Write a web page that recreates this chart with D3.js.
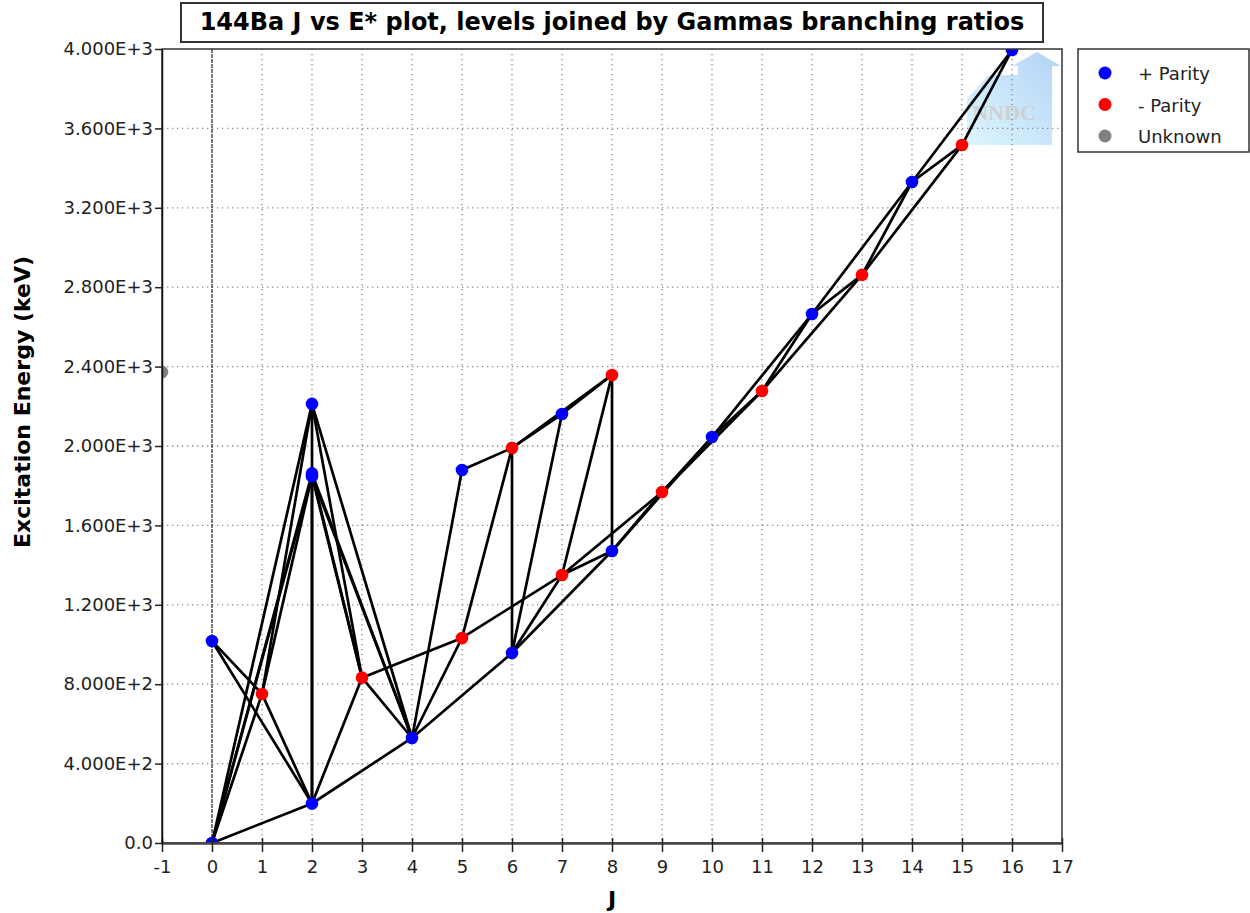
<!DOCTYPE html>
<html>
<head>
<meta charset="utf-8">
<script src="https://cdn.jsdelivr.net/npm/d3@7"></script>
<style>
  body { margin: 0; background: #fff; }
  text { font-family: "DejaVu Sans", sans-serif; }
</style>
</head>
<body>
<div id="chart"></div>
<script>
// Levels: spin J, excitation energy (keV), parity
var levelJ = [0, 2, 4, 1, 3, 6, 0, 5, 7, 8, 9, 2, 2, 5, 6, 10, 7, 2, 11, 8, 12, 13, 14, 15, 16, -1];
var levelE = [0, 199, 529, 751, 833, 957, 1018, 1033, 1350, 1471, 1768, 1848, 1862, 1879, 1990, 2045, 2161, 2212, 2277, 2358, 2665, 2862, 3330, 3516, 3995, 2373];
var levelParity = ["+", "+", "+", "-", "-", "+", "+", "-", "-", "+", "-", "+", "+", "+", "-", "+", "+", "+", "-", "-", "+", "-", "+", "-", "+", "?"];

// Gammas: initial level energy -> final level energy (keV)
var gammaFrom = [199, 529, 751, 751, 833, 833, 957, 1018, 1018, 1033, 1033, 1350, 1350, 1471, 1471, 1768, 1768,
                 1848, 1848, 1848, 1848, 1862, 1862, 1862, 1862, 1879, 1990, 1990, 1990, 2045, 2045, 2161, 2161,
                 2212, 2212, 2212, 2212, 2212, 2277, 2277, 2358, 2358, 2358, 2358, 2665, 2665, 2862, 2862,
                 3330, 3330, 3516, 3516, 3995, 3995];
var gammaTo   = [0, 199, 0, 199, 199, 529, 529, 751, 199, 833, 529, 1033, 957, 957, 1350, 1471, 1350,
                 0, 751, 833, 529, 0, 199, 833, 529, 529, 1879, 957, 1033, 1768, 1471, 1990, 957,
                 751, 0, 199, 833, 529, 2045, 1768, 2161, 1990, 1471, 1350, 2277, 2045, 2665, 2277,
                 2862, 2665, 3330, 2862, 3516, 3330];

var xTicks = [-1, 0, 1, 2, 3, 4, 5, 6, 7, 8, 9, 10, 11, 12, 13, 14, 15, 16, 17];
var yTicks = [0, 400, 800, 1200, 1600, 2000, 2400, 2800, 3200, 3600, 4000];
var yTickLabels = ["0.0", "4.000E+2", "8.000E+2", "1.200E+3", "1.600E+3", "2.000E+3",
                   "2.400E+3", "2.800E+3", "3.200E+3", "3.600E+3", "4.000E+3"];
var legendLabels = ["+ Parity", "- Parity", "Unknown"];
var parityColor = { "+": "#0000ff", "-": "#ff0000", "?": "#808080" };

var svgWidth = 1250;
var svgHeight = 913;
var chartMargin = { top: 49, left: 162 };
var chartWidth = 900;
var chartHeight = 794;

var svg = d3.select("#chart")
    .append("svg")
    .attr("width", svgWidth)
    .attr("height", svgHeight);

var xScale = d3.scaleLinear().domain([-1, 17]).range([chartMargin.left, chartMargin.left + chartWidth]);
var yScale = d3.scaleLinear().domain([0, 4000]).range([chartMargin.top + chartHeight, chartMargin.top]);

svg.append("clipPath").attr("id", "plotClip")
  .append("rect")
    .attr("x", chartMargin.left).attr("y", chartMargin.top)
    .attr("width", chartWidth).attr("height", chartHeight);

// NNDC watermark
var grad = svg.append("defs").append("linearGradient")
    .attr("id", "logoGrad").attr("x1", "0%").attr("y1", "100%").attr("x2", "100%").attr("y2", "0%");
grad.append("stop").attr("offset", "0%").attr("stop-color", "#dcf6fd");
grad.append("stop").attr("offset", "100%").attr("stop-color", "#b3d3f6");
var logo = svg.append("g");
logo.append("path")
    .attr("d", "M967,145 L967,99 L989,75 L1018,75 L1018,66 L1012,66 L1037,52 L1061,66 L1052,66 L1052,145 Z")
    .attr("fill", "url(#logoGrad)");
logo.append("text")
    .attr("x", 1004).attr("y", 120)
    .attr("text-anchor", "middle")
    .style("font-family", "'Liberation Serif', serif")
    .style("font-weight", "bold")
    .style("font-size", "22px")
    .attr("fill", "#d0d0d0")
    .text("NNDC");

// dotted grid
var grid = svg.append("g");
grid.selectAll("line.v")
    .data(xTicks.filter(d => d > 0 && d < 17))
    .enter().append("line")
    .attr("x1", d => xScale(d)).attr("x2", d => xScale(d))
    .attr("y1", yScale(4000)).attr("y2", yScale(0))
    .attr("stroke", "#8a8a8a").attr("stroke-width", 1.3)
    .attr("stroke-dasharray", "1.3,3.7");
grid.selectAll("line.h")
    .data(yTicks.filter(d => d > 0 && d < 4000))
    .enter().append("line")
    .attr("x1", xScale(-1)).attr("x2", xScale(17))
    .attr("y1", d => yScale(d)).attr("y2", d => yScale(d))
    .attr("stroke", "#8a8a8a").attr("stroke-width", 1.3)
    .attr("stroke-dasharray", "1.3,3.7");
// zero line
svg.append("line")
    .attr("x1", xScale(0)).attr("x2", xScale(0))
    .attr("y1", yScale(4000)).attr("y2", yScale(0))
    .attr("stroke", "#222").attr("stroke-width", 1.2)
    .attr("stroke-dasharray", "4,1");

// gamma transitions
var levelIndex = {};
levelE.forEach((e, i) => levelIndex[e] = i);
var plotGroup = svg.append("g").attr("clip-path", "url(#plotClip)");
plotGroup.selectAll("line.gamma")
    .data(gammaFrom.map((f, i) => [levelIndex[f], levelIndex[gammaTo[i]]]))
    .enter().append("line")
    .attr("x1", d => xScale(levelJ[d[0]]))
    .attr("y1", d => yScale(levelE[d[0]]))
    .attr("x2", d => xScale(levelJ[d[1]]))
    .attr("y2", d => yScale(levelE[d[1]]))
    .attr("stroke", "#000").attr("stroke-width", 2.7);

// levels
plotGroup.selectAll("circle")
    .data(levelE)
    .enter().append("circle")
    .attr("cx", (d, i) => xScale(levelJ[i]))
    .attr("cy", d => yScale(d))
    .attr("r", 6.3)
    .attr("fill", (d, i) => parityColor[levelParity[i]]);

// frame
svg.append("rect")
    .attr("x", chartMargin.left).attr("y", chartMargin.top)
    .attr("width", chartWidth).attr("height", chartHeight)
    .attr("fill", "none").attr("stroke", "#333").attr("stroke-width", 1.5);

// axes
var bottomAxis = d3.axisBottom(xScale).tickValues(xTicks).tickSizeInner(9).tickSizeOuter(0).tickPadding(8)
    .tickFormat(d => String(d));
var leftAxis = d3.axisLeft(yScale).tickValues(yTicks).tickSizeInner(7).tickSizeOuter(0).tickPadding(2)
    .tickFormat((d, i) => yTickLabels[i]);
var gx = svg.append("g")
    .attr("transform", `translate(0, ${chartMargin.top + chartHeight})`)
    .call(bottomAxis);
gx.select(".domain").attr("stroke", "#444").attr("stroke-width", 2.5);
gx.selectAll(".tick line").attr("stroke", "#222").attr("stroke-width", 1.5).attr("y1", -5);
gx.selectAll(".tick text").style("font-size", "18px").attr("fill", "#222");
var gy = svg.append("g")
    .attr("transform", `translate(${chartMargin.left}, 0)`)
    .call(leftAxis);
gy.select(".domain").attr("stroke", "#111").attr("stroke-width", 1.5);
gy.selectAll(".tick line").attr("stroke", "#222").attr("stroke-width", 1.5);
gy.selectAll(".tick text").style("font-size", "18px").attr("fill", "#222");

// axis titles
svg.append("text")
    .attr("x", xScale(8)).attr("y", 907)
    .attr("text-anchor", "middle")
    .style("font-size", "22px").style("font-weight", "bold")
    .text("J");
svg.append("text")
    .attr("transform", "rotate(-90)")
    .attr("x", -402).attr("y", 30)
    .attr("text-anchor", "middle")
    .style("font-size", "22px").style("font-weight", "bold")
    .text("Excitation Energy (keV)");

// title
svg.append("rect")
    .attr("x", 181).attr("y", 3).attr("width", 862).attr("height", 39)
    .attr("fill", "#fff").attr("stroke", "#333").attr("stroke-width", 2);
svg.append("text")
    .attr("x", 612).attr("y", 30)
    .attr("text-anchor", "middle")
    .style("font-size", "24px").style("font-weight", "bold")
    .text("144Ba J vs E* plot, levels joined by Gammas branching ratios");

// legend
var legend = svg.append("g");
legend.append("rect")
    .attr("x", 1078).attr("y", 49).attr("width", 171).attr("height", 103)
    .attr("fill", "#fff").attr("stroke", "#333").attr("stroke-width", 1.5);
var legendKeys = ["+", "-", "?"];
legend.selectAll("circle")
    .data(legendKeys)
    .enter().append("circle")
    .attr("cx", 1105).attr("cy", (d, i) => 73 + i * 31.5)
    .attr("r", 6.5)
    .attr("fill", d => parityColor[d]);
legend.selectAll("text")
    .data(legendLabels)
    .enter().append("text")
    .attr("x", 1138).attr("y", (d, i) => 80 + i * 31.5)
    .style("font-size", "18px").attr("fill", "#222")
    .text(d => d);
</script>
</body>
</html>
